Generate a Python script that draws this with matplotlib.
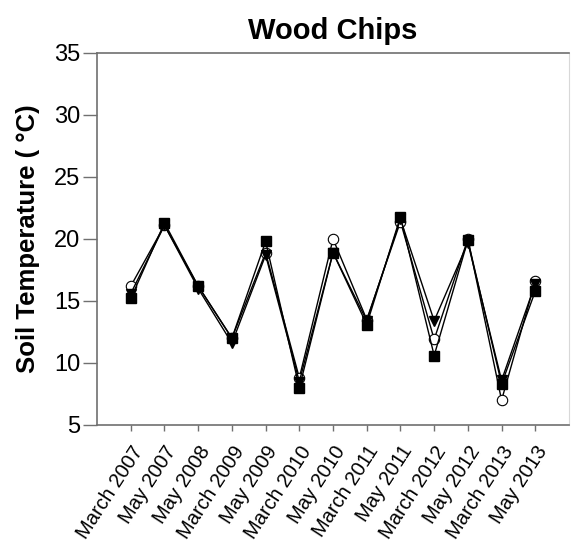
import matplotlib
matplotlib.use('Agg')
import matplotlib.pyplot as plt

plt.rcParams['font.family'] = ['Liberation Sans', 'DejaVu Sans']

# sampling dates
dates = ['March 2007', 'May 2007', 'May 2008', 'March 2009', 'May 2009',
         'March 2010', 'May 2010', 'March 2011', 'May 2011', 'March 2012',
         'May 2012', 'March 2013', 'May 2013']

# soil temperature (deg C) for the three plots
temp_circle = [16.2, 21.1, 16.2, 12.0, 18.9, 8.8, 20.0, 13.5, 21.4, 11.9, 20.0, 7.0, 16.6]
temp_triangle = [15.6, 21.1, 16.0, 11.6, 18.7, 8.5, 18.9, 13.4, 21.6, 13.4, 19.7, 8.6, 16.4]
temp_square = [15.2, 21.3, 16.2, 12.0, 19.8, 8.0, 18.9, 13.1, 21.8, 10.6, 19.9, 8.3, 15.8]

fig = plt.figure(figsize=(5.71, 5.48), dpi=100)
ax = fig.add_axes([0.170, 0.2245, 0.8265, 0.6788])

x = range(len(dates))
ax.plot(x, temp_circle, color='black', lw=1, marker='o', ms=7.5,
        mfc='white', mec='black', mew=0.8, zorder=3)
ax.plot(x, temp_triangle, color='black', lw=1, marker='v', ms=7.5,
        mfc='black', mec='black', zorder=4)
ax.plot(x, temp_square, color='black', lw=1, marker='s', ms=7,
        mfc='black', mec='black', zorder=5)

ax.set_xlim(-1, len(dates))
ax.set_ylim(5, 35)
ax.set_yticks(range(5, 36, 5))
ax.set_xticks(list(x))
ax.set_xticklabels(dates, rotation=57, ha='right', rotation_mode='anchor')

for side in ['left', 'bottom', 'top']:
    ax.spines[side].set_color('#707070')
    ax.spines[side].set_linewidth(1.2)
ax.spines['right'].set_color('#d8d8d8')
ax.tick_params(axis='y', direction='out', color='#707070', width=1,
               length=10, labelsize=17, pad=2)
ax.tick_params(axis='x', direction='out', color='#707070', width=1,
               length=4.5, labelsize=14.5, pad=8)

ax.set_ylabel('Soil Temperature ( °C)', fontsize=18.5, fontweight='bold', labelpad=10)
ax.set_title('Wood Chips', fontsize=21, fontweight='bold', pad=10)

fig.savefig('out.png', dpi=100)
